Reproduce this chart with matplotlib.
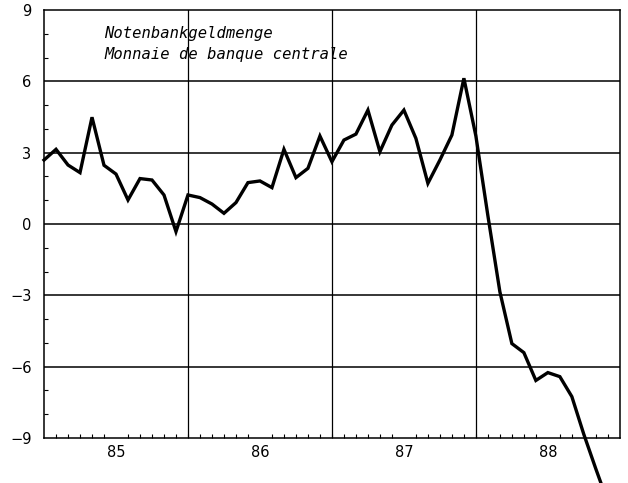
import matplotlib
matplotlib.use("Agg")
import matplotlib.pyplot as plt
import numpy as np

# monthly values, Jan 1985 .. Dec 1988
months = np.arange(48)
values = [2.69, 3.14, 2.48, 2.16, 4.49, 2.47, 2.10, 1.01, 1.91, 1.85, 1.22, -0.32,
          1.22, 1.11, 0.84, 0.45, 0.90, 1.74, 1.81, 1.53, 3.14, 1.95, 2.34, 3.70,
          2.62, 3.53, 3.78, 4.79, 3.04, 4.16, 4.79, 3.60, 1.71, 2.69, 3.74, 6.13,
          3.70, 0.35, -2.85, -5.03, -5.41, -6.58, -6.25, -6.42, -7.26, -8.85, -10.3, -11.7]
year_labels = ["85", "86", "87", "88"]
y_ticks = [-9, -6, -3, 0, 3, 6, 9]
title_lines = ["Notenbankgeldmenge", "Monnaie de banque centrale"]

x = 1985 + months / 12.0

fig = plt.figure(figsize=(6.28, 4.83), dpi=100)
ax = fig.add_axes([0.0701, 0.0932, 0.9169, 0.8861])

# grid
for v in [-6, -3, 0, 3, 6]:
    ax.axhline(v, color="black", lw=1.1, zorder=1)
for yr in [1986, 1987, 1988]:
    ax.axvline(yr, color="black", lw=0.9, zorder=1)

ax.plot(x, values, color="black", lw=2.4, clip_on=False, zorder=3,
        solid_joinstyle="miter")

ax.set_xlim(1985, 1989)
ax.set_ylim(-9, 9)

ax.set_yticks(y_ticks)
ax.set_yticklabels([str(t).replace("-", "\u2212") for t in y_ticks])
ax.set_yticks(np.arange(-9, 10, 1), minor=True)
ax.tick_params(axis="y", which="major", length=0, pad=9, labelsize=10.5)
ax.tick_params(axis="y", which="minor", direction="in", length=3, width=0.8)

ax.set_xticks([1985.5, 1986.5, 1987.5, 1988.5])
ax.set_xticklabels(year_labels)
ax.set_xticks(1985 + np.arange(1, 48) / 12.0, minor=True)
ax.tick_params(axis="x", which="major", length=0, pad=5, labelsize=10.5)
ax.tick_params(axis="x", which="minor", direction="in", length=3, width=0.8)

for s in ax.spines.values():
    s.set_linewidth(1.1)

ax.text(0.105, 0.963, title_lines[0] + "\n" + title_lines[1],
        transform=ax.transAxes, family="DejaVu Sans Mono", style="italic",
        fontsize=11.2, va="top", ha="left", linespacing=1.5)

fig.savefig("out.png", dpi=100)
